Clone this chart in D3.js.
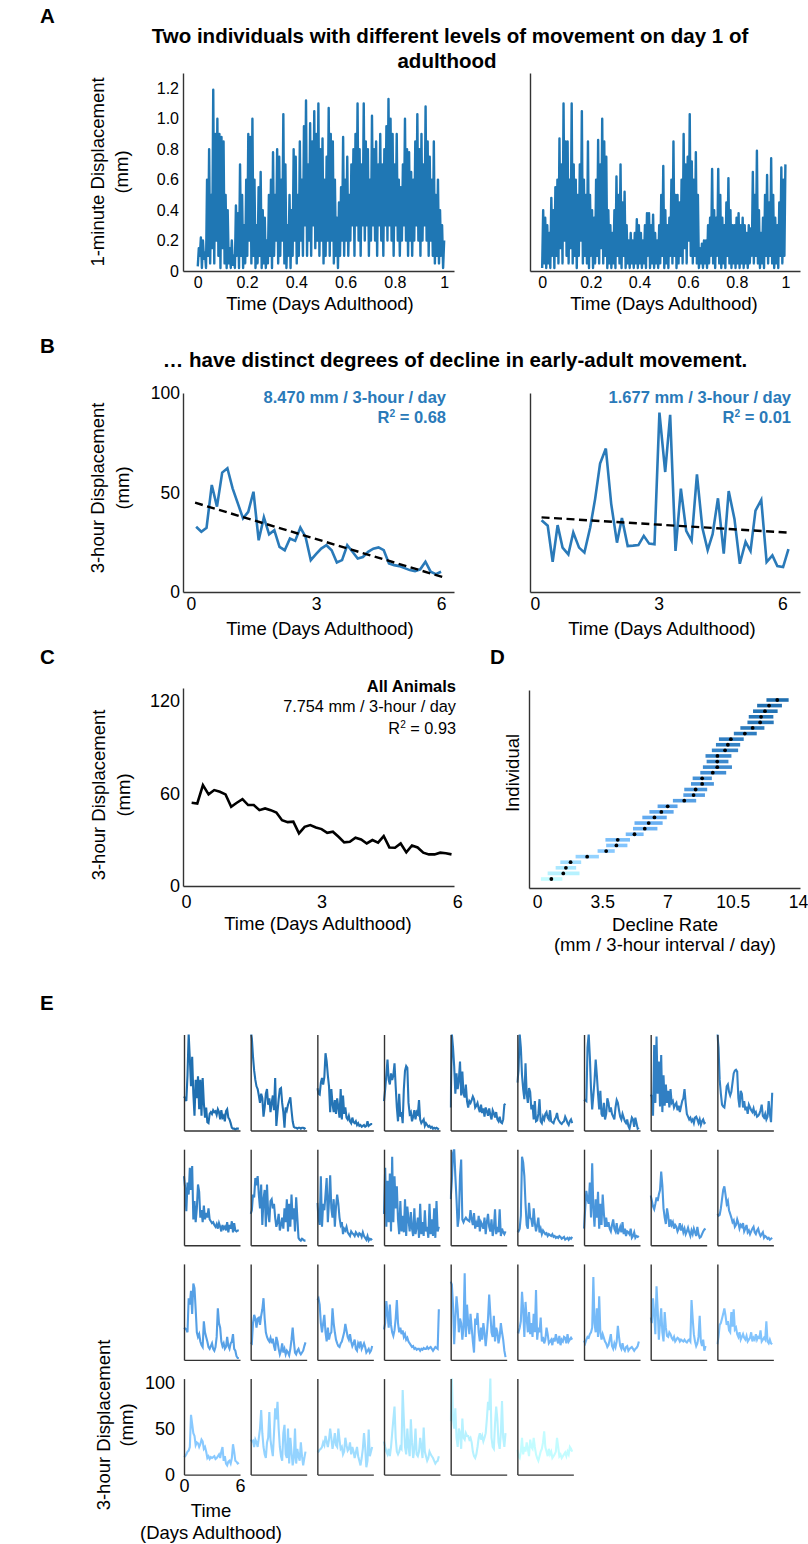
<!DOCTYPE html>
<html>
<head>
<meta charset="utf-8">
<script src="https://cdn.jsdelivr.net/npm/d3@7"></script>
<style>
  body { margin: 0; background: #fff; }
  svg text { font-family: 'Liberation Sans', Arial, Helvetica, sans-serif; fill: #000; }
</style>
</head>
<body>
<svg id="fig" width="808" height="1544"></svg>
<script>
// ---------------- data ----------------
// A: 1-minute displacement (mm), day 1, two individuals (downsampled, trough/peak pairs)
var moveActive = [
  0.03,0.15, 0.1,0.22, 0.02,0.2, 0.08,0.12, 0.02,0.6, 0.1,0.8, 0.05,0.5, 0.15,1.19, 0.05,0.9, 0.2,1.0,
  0.1,0.9, 0.02,0.88, 0.15,0.85, 0.05,0.5, 0.02,0.4, 0.05,0.15, 0.02,0.2, 0.04,0.1, 0.02,0.43, 0.1,0.38,
  0.02,0.7, 0.1,0.5, 0.02,0.3, 0.05,0.6, 0.1,0.9, 0.2,0.88, 0.05,1.0, 0.1,0.6, 0.02,0.3, 0.05,0.55,
  0.1,0.65, 0.02,0.4, 0.05,0.35, 0.02,0.2, 0.05,0.5, 0.1,0.6, 0.02,0.78, 0.1,0.5, 0.2,0.8, 0.05,0.75,
  0.1,0.6, 0.2,1.03, 0.05,0.7, 0.02,0.3, 0.1,0.5, 0.02,0.4, 0.1,0.8, 0.2,0.75, 0.05,0.5, 0.1,0.85,
  0.2,0.6, 0.1,0.95, 0.3,1.12, 0.1,0.7, 0.2,0.97, 0.1,0.85, 0.3,1.05, 0.15,0.9, 0.2,1.1, 0.1,0.8,
  0.2,0.87, 0.05,0.6, 0.1,0.75, 0.2,1.07, 0.1,0.9, 0.2,0.85, 0.05,0.6, 0.1,0.35, 0.02,0.45, 0.1,0.55,
  0.2,0.88, 0.1,0.6, 0.2,0.75, 0.1,0.5, 0.2,0.7, 0.3,0.8, 0.1,0.9, 0.3,1.1, 0.2,0.8, 0.1,0.7,
  0.3,1.1, 0.2,0.85, 0.3,0.8, 0.1,0.6, 0.2,1.02, 0.3,0.8, 0.2,0.85, 0.1,0.7, 0.3,0.9, 0.2,0.7,
  0.1,0.8, 0.3,0.95, 0.2,1.13, 0.3,1.0, 0.2,0.9, 0.1,0.7, 0.3,0.9, 0.2,0.6, 0.1,0.55, 0.2,0.7,
  0.3,1.0, 0.2,0.8, 0.1,0.78, 0.2,0.65, 0.1,0.6, 0.2,0.85, 0.3,1.03, 0.2,0.8, 0.1,0.9, 0.2,0.7,
  0.3,1.08, 0.2,0.85, 0.1,0.75, 0.2,0.6, 0.1,0.85, 0.05,0.5, 0.1,0.6, 0.05,0.4, 0.1,0.3, 0.02,0.2
];
var moveCalm = [
  0.02,0.4, 0.05,0.35, 0.02,0.3, 0.05,0.25, 0.02,0.48, 0.1,0.4, 0.02,0.55, 0.1,0.6, 0.05,0.87, 0.15,0.7,
  0.05,1.1, 0.2,0.85, 0.1,0.85, 0.05,0.6, 0.15,1.1, 0.05,0.7, 0.1,0.6, 0.02,0.5, 0.1,0.7, 0.2,1.05,
  0.05,0.6, 0.1,0.5, 0.05,0.85, 0.02,0.5, 0.1,0.4, 0.02,0.35, 0.05,0.6, 0.1,0.86, 0.05,0.7, 0.15,1.0,
  0.05,0.85, 0.1,0.75, 0.02,0.4, 0.05,0.3, 0.02,0.25, 0.05,0.4, 0.02,0.62, 0.1,0.5, 0.05,0.7, 0.02,0.45,
  0.1,0.52, 0.02,0.3, 0.05,0.2, 0.02,0.25, 0.05,0.2, 0.02,0.25, 0.05,0.34, 0.02,0.3, 0.05,0.25, 0.02,0.2,
  0.05,0.3, 0.02,0.38, 0.1,0.38, 0.02,0.3, 0.05,0.37, 0.02,0.25, 0.05,0.2, 0.02,0.3, 0.05,0.5, 0.1,0.69,
  0.02,0.4, 0.05,0.3, 0.02,0.35, 0.1,0.6, 0.05,0.85, 0.1,0.5, 0.02,0.5, 0.05,0.45, 0.1,0.6, 0.05,0.9,
  0.15,0.7, 0.05,0.75, 0.2,1.03, 0.1,0.72, 0.05,0.6, 0.1,0.78, 0.05,0.5, 0.02,0.15, 0.05,0.18, 0.02,0.2,
  0.05,0.2, 0.02,0.3, 0.05,0.35, 0.1,0.67, 0.05,0.4, 0.02,0.35, 0.1,0.67, 0.05,0.5, 0.02,0.35, 0.05,0.3,
  0.02,0.45, 0.1,0.61, 0.05,0.4, 0.02,0.3, 0.05,0.3, 0.02,0.35, 0.05,0.38, 0.02,0.3, 0.05,0.35, 0.02,0.3,
  0.05,0.25, 0.02,0.3, 0.05,0.28, 0.1,0.65, 0.05,0.5, 0.1,0.79, 0.05,0.4, 0.02,0.25, 0.05,0.35, 0.02,0.5,
  0.1,0.63, 0.05,0.45, 0.1,0.74, 0.05,0.5, 0.02,0.35, 0.05,0.3, 0.02,0.45, 0.1,0.68, 0.05,0.6, 0.1,0.7
];

// B: 3-hour displacement (mm), two individuals
var dispSteep = [
  32.8,30.3,32.3,53.8,42.9,60,62.2,52.1,44.5,37,40.3,50.4,26,37.5,29,31.1,
  22.7,21,26.9,25.7,32.4,27.7,16,19,21.8,23.5,21,14.8,16,23.5,20.2,16.8,
  17.6,20.2,21.8,22.4,21,14.3,13.5,13,12,11,10.5,11.4,15.2,10.2,9,10.2
];
var timeFlat = [
  0.16,0.31,0.43,0.55,0.67,0.81,0.93,1.07,1.2,1.34,1.46,1.58,1.72,1.85,1.99,2.11,
  2.25,2.38,2.51,2.64,2.77,2.9,3.02,3.16,3.28,3.41,3.54,3.67,3.8,3.93,4.06,4.19,
  4.31,4.44,4.58,4.7,4.84,4.97,5.11,5.23,5.35,5.49,5.62,5.76,5.88,6.02,6.15
];
var dispFlat = [
  36.1,33.3,15.2,33.6,22.3,18.9,29.9,22.3,19.8,32.4,46.8,64.5,72.1,44.3,24.8,37.2,
  23.1,23.3,23.6,28.2,24.3,24,90.2,60.3,89,20.6,51.9,30.7,25.7,59.1,32.4,21.1,
  29.1,47.1,19.3,50.7,36.7,14.2,25.2,20.6,40.9,46.3,15,18.4,13,12.5,21.5
];
// regression fits: [t start, t end, intercept, slope]
var fitSteep = [0.1, 6.05, 45.5, -6.29];
var fitFlat = [0.16, 6.15, 37.7, -1.28];

// C: mean of all animals
var dispAll = [
  54,53.5,65.4,59.4,62.2,61.1,59.4,51.4,54,56.3,52.5,52.5,49.2,50.3,49.2,47.7,
  42.7,41.4,41.7,34.1,38.4,39.5,38,36.9,34.5,35.2,31.9,28.3,28.7,31.3,30.2,27.6,
  29.8,28.1,32.4,25,24.8,27.6,21.8,26.3,25,21.6,20.5,20.5,21.6,21.2,20.5
];

// D: decline rate per individual (sorted, steepest first), with interval
var rateMean = [12.89,12.45,12.23,12.02,11.97,11.57,11.15,10.40,10.24,10.09,9.68,9.67,9.67,9.43,8.86,8.86,8.51,8.40,7.90,7.01,6.67,6.30,5.99,5.78,5.23,4.33,4.26,3.71,2.69,1.80,1.55,1.41,0.77];
var rateLo   = [12.31,11.81,11.59,11.36,11.29,10.91,10.56,9.76,9.60,9.38,9.04,9.10,8.90,8.76,8.35,8.26,7.90,7.85,7.29,6.47,6.03,5.65,5.23,5.15,4.76,3.67,3.71,3.25,2.07,1.25,1.00,0.57,0.21];
var rateHi   = [13.50,13.14,12.91,12.68,12.70,12.20,11.79,11.09,10.90,10.79,10.43,10.27,10.46,10.15,9.38,9.49,9.13,9.01,8.54,7.54,7.33,6.96,6.74,6.46,5.72,4.99,4.85,4.17,3.32,2.37,2.10,2.28,1.36];

// E: 3-hour displacement per individual (same order as D)
var indiv = [
  [37,35,32,60,105,78,48,80,40,16,55,35,59,23,55,16,57,30,14,25,9,8,18,20,18,22,20,21,17,23,20,12,22,14,16,10,21,23,14,12,8,3,2,2,1,2,2,2],
  [110,100,80,65,55,48,45,38,30,40,35,15,25,40,45,28,35,20,30,38,22,57,5,20,34,45,46,30,20,3,25,22,28,32,36,22,10,4,3,3,2,3,3,2,3,3,2,3],
  [46,40,39,52,57,50,58,84,75,60,48,20,45,29,20,33,18,35,25,14,45,12,38,18,25,14,12,16,10,8,14,9,8,10,6,8,5,6,4,5,6,4,5,10,5,6,7,7],
  [32,45,60,77,55,50,62,55,60,73,48,25,10,40,15,20,8,45,65,70,68,30,18,20,10,15,22,12,20,18,33,12,8,10,12,5,8,6,4,5,3,4,2,3,2,3,2,1],
  [25,105,90,70,40,62,45,55,75,38,64,40,36,50,32,25,32,30,33,37,34,25,27,30,24,20,28,19,24,15,25,21,16,24,17,12,22,19,14,20,12,10,15,9,8,12,28,29],
  [52,65,105,90,60,45,34,73,40,30,46,42,23,28,12,32,10,11,18,34,10,8,15,12,18,20,14,12,22,10,9,8,12,14,19,12,10,8,7,9,10,15,12,8,6,10,12,8],
  [32,33,32,90,105,80,45,23,38,54,77,60,40,23,43,18,15,30,12,18,35,30,20,25,18,15,12,25,33,30,22,15,12,18,14,10,8,12,5,2,8,14,12,4,14,8,2,3],
  [39,37,16,93,30,102,40,75,26,82,20,60,27,50,30,43,25,45,30,32,25,28,30,22,27,20,26,32,35,45,30,18,15,12,14,10,12,8,14,15,12,8,12,6,10,12,8,9],
  [105,90,55,40,28,26,25,35,48,50,42,38,42,52,62,65,66,64,35,25,43,40,25,32,22,26,18,28,25,22,20,24,18,20,15,16,18,22,28,16,14,18,12,15,32,18,9,41],
  [75,62,37,68,55,84,60,86,28,48,25,40,66,58,30,38,25,43,28,35,30,40,28,26,24,25,22,20,23,18,24,20,15,22,18,20,16,25,14,22,18,26,14,24,16,15,16,16],
  [34,38,55,52,73,65,75,55,40,66,22,50,60,20,66,35,25,48,50,40,45,30,20,25,34,16,22,30,18,40,25,50,15,45,20,55,28,40,15,52,30,8,6,5,7,6,5,5],
  [46,30,22,75,20,45,38,55,73,25,48,76,40,30,50,20,42,55,45,30,22,25,12,18,16,20,14,12,10,15,13,12,10,14,12,10,13,12,9,14,10,8,6,10,5,7,6,7],
  [34,84,20,70,25,78,15,96,25,75,40,64,28,12,48,15,32,14,50,10,42,28,15,36,18,10,40,12,20,30,8,45,12,25,10,38,15,20,8,45,12,28,10,40,8,48,15,20],
  [50,70,100,105,75,50,20,30,75,93,28,25,28,30,28,27,26,38,28,22,35,18,24,20,32,15,25,22,18,30,12,25,34,20,15,28,10,18,39,12,20,14,39,10,18,14,12,15],
  [16,15,18,32,96,90,75,45,22,18,46,30,28,20,40,24,15,22,30,14,18,12,16,14,12,13,10,12,11,10,12,9,10,8,9,8,10,9,7,8,9,6,7,8,6,8,7,9],
  [18,40,59,50,45,68,30,89,40,20,50,30,58,18,45,22,55,35,20,30,20,25,18,15,22,28,18,15,24,12,16,20,14,25,12,18,10,15,14,12,18,8,10,14,8,10,9,10],
  [54,48,42,39,45,52,48,55,60,80,65,40,30,23,40,32,20,28,22,25,18,22,20,15,18,24,16,20,14,18,12,15,19,14,10,16,12,18,14,10,20,12,8,9,12,15,17,18],
  [34,32,33,40,50,60,64,55,45,48,38,34,30,25,27,20,22,28,24,18,22,20,24,15,18,22,14,16,12,15,18,20,14,12,16,18,13,10,12,14,8,10,9,7,8,6,7,8],
  [35,34,33,30,67,60,75,50,83,78,55,30,25,28,20,16,14,42,30,25,20,14,12,15,18,12,10,14,25,56,40,35,20,15,18,12,14,25,15,12,18,20,28,12,10,4,2,2],
  [19,18,40,49,45,35,45,46,38,48,55,67,45,30,25,22,20,24,18,23,15,10,25,20,12,6,10,18,8,12,6,10,8,5,12,22,35,20,8,6,10,12,8,6,8,10,15,19],
  [65,67,60,40,30,40,49,30,20,35,22,28,30,56,40,30,22,18,15,14,18,20,25,30,39,32,25,22,28,20,15,18,22,12,10,18,15,20,12,15,18,14,8,10,12,8,10,15],
  [33,40,64,50,35,60,38,30,26,32,45,65,40,30,35,28,32,25,28,22,24,20,18,16,14,15,12,13,11,12,12,10,12,11,13,12,12,14,12,13,14,12,10,12,14,13,12,55],
  [85,82,60,17,45,69,55,30,45,40,22,35,94,25,60,40,28,50,35,20,8,45,38,51,30,20,35,22,40,30,15,28,45,71,50,30,25,48,20,35,30,18,25,40,30,22,10,3],
  [31,30,35,42,74,55,25,63,45,30,52,28,40,25,50,30,76,22,35,30,46,20,25,18,22,35,28,18,20,22,16,24,20,28,22,18,26,16,22,20,25,24,18,28,20,22,24,22],
  [21,18,22,25,24,28,30,35,90,40,30,56,25,69,30,22,28,24,20,18,14,16,22,28,15,12,18,14,20,37,25,15,12,18,12,10,14,15,10,12,13,14,12,10,12,13,15,20],
  [46,40,67,50,28,80,55,22,40,56,30,20,52,35,26,25,30,28,24,22,25,20,22,24,23,20,22,21,20,22,20,19,21,22,20,65,45,28,20,15,18,25,48,20,15,22,10,15],
  [17,25,38,40,45,50,56,48,38,42,32,30,52,36,55,33,35,28,25,30,22,25,28,24,22,26,20,22,24,30,20,24,22,28,22,25,24,32,20,22,24,22,42,20,18,22,18,17],
  [19,20,22,25,26,30,65,55,45,42,32,35,34,30,33,38,36,28,30,25,18,20,17,19,18,19,20,17,18,20,22,18,25,30,15,20,12,10,14,15,12,18,33,25,15,14,12,13],
  [38,36,37,30,38,35,30,40,50,70,45,30,22,18,35,40,68,38,28,20,45,72,60,79,50,30,20,15,45,54,22,18,50,12,40,25,10,18,50,12,28,20,15,35,20,10,18,25],
  [26,25,27,28,30,35,32,42,36,30,38,50,40,28,35,45,32,30,50,38,28,30,22,25,40,32,26,28,35,22,30,25,18,24,30,20,15,10,18,28,45,30,8,15,49,20,25,30],
  [36,30,25,22,28,20,30,45,60,74,40,25,22,25,30,28,92,60,30,22,50,30,20,60,35,18,28,50,22,20,25,40,30,18,51,25,20,15,18,25,22,20,18,15,12,14,15,20],
  [58,105,60,50,72,40,30,50,45,28,61,40,38,45,42,42,38,40,35,25,20,18,22,30,40,45,38,42,36,40,45,60,79,70,105,40,30,28,55,74,60,35,28,45,80,40,30,45],
  [27,20,18,25,40,22,30,25,35,28,20,38,30,28,40,30,22,18,15,20,25,28,35,47,30,25,20,28,22,25,18,20,22,25,40,30,20,22,18,20,22,24,20,25,22,30,28,25]
];

// ---------------- drawing ----------------
var svg = d3.select('#fig');
var BLUE = '#1f77b4', BLUE_B = '#2a7ab9';

// individual colour ramp: steepest decline = dark blue, flattest = pale cyan
var shade = d3.scaleLinear()
    .domain([0, 12, 21, 27, 32])
    .range(['#1f6fb0', '#3d8bd0', '#62aaf0', '#88c9ff', '#c3fcff'])
    .interpolate(d3.interpolateRgb);

var plain = function(d) { return String(d); };

function styleAxis(g, fs) {
  g.select('.domain').attr('stroke', '#333').attr('stroke-width', 1.4);
  g.selectAll('.tick line').remove();
  g.selectAll('.tick text').attr('font-size', fs).attr('fill', '#000');
}

function drawAxes(x, y, o) {
  var gx = svg.append('g')
      .attr('transform', 'translate(0,' + y.range()[0] + ')')
      .call(d3.axisBottom(x).tickValues(o.xt).tickFormat(o.xf || plain).tickSize(0).tickPadding(o.xp));
  var gy = svg.append('g')
      .attr('transform', 'translate(' + x.range()[0] + ',0)')
      .call(d3.axisLeft(y).tickValues(o.yt).tickFormat(o.yf || plain).tickSize(0).tickPadding(o.yp));
  styleAxis(gx, o.fs);
  styleAxis(gy, o.fs);
}

function label(x, y, txt, fs, opts) {
  opts = opts || {};
  return svg.append('text').attr('x', x).attr('y', y)
    .attr('text-anchor', opts.anchor || 'middle')
    .attr('font-size', fs)
    .attr('font-weight', opts.bold ? 'bold' : null)
    .style('fill', opts.color || '#000')
    .text(txt);
}

function yLabel(x, y, lines, fs, gap) {
  var t = svg.append('text')
    .attr('transform', 'translate(' + x + ',' + y + ') rotate(-90)')
    .attr('text-anchor', 'middle').attr('font-size', fs);
  lines.forEach(function(s, i) {
    t.append('tspan').attr('x', 0).attr('dy', i ? gap : 0).text(s);
  });
}

function rSquared(x, y, val, fs, opts) {
  var t = svg.append('text').attr('x', x).attr('y', y)
    .attr('text-anchor', 'end').attr('font-size', fs)
    .attr('font-weight', opts.bold ? 'bold' : null)
    .style('fill', opts.color || '#000');
  t.append('tspan').text('R');
  t.append('tspan').attr('dy', -6).attr('font-size', fs * 0.62).text('2');
  t.append('tspan').attr('dy', 6).text(' = ' + val);
}

// panel letters
[['A', 23], ['B', 353], ['C', 664]].forEach(function(p) {
  label(40, p[1], p[0], 20.5, {anchor: 'start', bold: true});
});
label(490, 664, 'D', 20.5, {anchor: 'start', bold: true});
label(40, 1010, 'E', 20.5, {anchor: 'start', bold: true});

// ---------- Panel A ----------
label(450, 43, 'Two individuals with different levels of movement on day 1 of', 20.5, {bold: true});
label(447, 68, 'adulthood', 20.5, {bold: true});

var yA = d3.scaleLinear().domain([0, 1.3]).range([271, 73]);
var fmtA = function(d) { return d === 0 ? '0' : d.toFixed(1); };

[[moveActive, [183, 454], [-0.06, 1.04], true, 320],
 [moveCalm,   [530, 800], [-0.05, 1.06], false, 664]].forEach(function(p) {
  var x = d3.scaleLinear().domain(p[2]).range(p[1]);
  var n = p[0].length;
  var line = d3.line()
      .x(function(d, i) { return x(i / (n - 1)); })
      .y(function(d) { return yA(d); });
  svg.append('path').datum(p[0])
    .attr('d', line).attr('fill', 'none')
    .attr('stroke', BLUE).attr('stroke-width', 2.4).attr('stroke-linejoin', 'round');
  drawAxes(x, yA, {
    xt: [0, 0.2, 0.4, 0.6, 0.8, 1], xp: 5.5,
    yt: p[3] ? [0, 0.2, 0.4, 0.6, 0.8, 1.0, 1.2] : [], yf: fmtA, yp: 4,
    fs: 16
  });
  label(p[4], 310, 'Time (Days Adulthood)', 18.5);
});
yLabel(104, 172, ['1-minute Displacement', '(mm)'], 18.5, 24);

// ---------- Panel B ----------
label(455, 367, '\u2026 have distinct degrees of decline in early-adult movement.', 20.5, {bold: true});
var yB = d3.scaleLinear().domain([0, 100]).range([592, 393]);
var stepT = function(i) { return 0.125 * (i + 1); };

[[dispSteep, null, fitSteep, [183, 454], [-0.19, 6.31], true, 320, '8.470', '0.68', 446],
 [dispFlat, timeFlat, fitFlat, [530, 800], [-0.12, 6.43], false, 662, '1.677', '0.01', 791]].forEach(function(p) {
  var x = d3.scaleLinear().domain(p[4]).range(p[3]);
  var times = p[1];
  var line = d3.line()
      .x(function(d, i) { return x(times ? times[i] : stepT(i)); })
      .y(function(d) { return yB(d); });
  svg.append('path').datum(p[0])
    .attr('d', line).attr('fill', 'none')
    .attr('stroke', BLUE_B).attr('stroke-width', 2.6);
  var f = p[2];
  svg.append('line')
    .attr('x1', x(f[0])).attr('y1', yB(f[2] + f[3] * f[0]))
    .attr('x2', x(f[1])).attr('y2', yB(f[2] + f[3] * f[1]))
    .attr('stroke', '#000').attr('stroke-width', 2.4).attr('stroke-dasharray', '8,4.5');
  drawAxes(x, yB, {
    xt: [0, 3, 6], xp: 5.5,
    yt: p[5] ? [0, 50, 100] : [], yp: 3,
    fs: 17.5
  });
  label(p[6], 635, 'Time (Days Adulthood)', 18.5);
  label(p[9], 403, p[7] + ' mm / 3-hour / day', 16.5, {anchor: 'end', bold: true, color: BLUE_B});
  rSquared(p[9], 423, p[8], 16.5, {bold: true, color: BLUE_B});
});
yLabel(104, 488, ['3-hour Displacement', '(mm)'], 18.5, 25);

// ---------- Panel C ----------
var xC = d3.scaleLinear().domain([-0.066, 5.93]).range([183, 454]);
var yC = d3.scaleLinear().domain([0, 128.4]).range([886, 688]);
svg.append('path').datum(dispAll)
  .attr('d', d3.line().x(function(d, i) { return xC(stepT(i)); }).y(function(d) { return yC(d); }))
  .attr('fill', 'none').attr('stroke', '#000').attr('stroke-width', 2.6);
drawAxes(xC, yC, {xt: [0, 3, 6], xp: 9, yt: [0, 60, 120], yp: 3, fs: 18});
label(318, 930, 'Time (Days Adulthood)', 18.5);
yLabel(105, 795, ['3-hour Displacement', '(mm)'], 18.5, 25);
label(456, 692, 'All Animals', 16.5, {anchor: 'end', bold: true});
label(456, 712, '7.754 mm / 3-hour / day', 16.3, {anchor: 'end'});
rSquared(456, 734, '0.93', 16.3, {});

// ---------- Panel D ----------
var xD = d3.scaleLinear().domain([-0.43, 14.11]).range([529, 800]);
var yD = d3.scaleLinear().domain([0, 1]).range([888, 690]);
var rowD = d3.scalePoint().domain(d3.range(rateMean.length)).range([700, 879]);
var gD = svg.append('g');
gD.selectAll('line.ci').data(rateMean).enter().append('line')
  .attr('class', 'ci')
  .attr('x1', function(d, i) { return xD(rateLo[i]); })
  .attr('x2', function(d, i) { return xD(rateHi[i]); })
  .attr('y1', function(d, i) { return rowD(i); })
  .attr('y2', function(d, i) { return rowD(i); })
  .attr('stroke', function(d, i) { return shade(i); })
  .attr('stroke-width', 3.6);
gD.selectAll('circle').data(rateMean).enter().append('circle')
  .attr('cx', function(d) { return xD(d); })
  .attr('cy', function(d, i) { return rowD(i); })
  .attr('r', 1.9).attr('fill', '#000');
drawAxes(xD, yD, {xt: [0, 3.5, 7, 10.5, 14], xp: 7.5, yt: [], yp: 3, fs: 17.5});
label(665, 931, 'Decline Rate', 18.5);
label(665, 951, '(mm / 3-hour interval / day)', 18.5);
yLabel(519, 773, ['Individual'], 18.5, 0);

// ---------- Panel E ----------
var colStep = 66.67, rowStep = 114.7, panelW = 57, panelH = 96;
indiv.forEach(function(series, k) {
  var col = k % 9, row = Math.floor(k / 9);
  var x0 = 183 + col * colStep, top = 1034.5 + row * rowStep, bot = top + panelH;
  var x = d3.scaleLinear().domain([0, 6]).range([x0 + 1, x0 + panelW]);
  var y = d3.scaleLinear().domain([0, 104.3]).range([bot, top]);
  var cid = 'clipE' + k;
  svg.append('clipPath').attr('id', cid).append('rect')
    .attr('x', x0).attr('y', top).attr('width', panelW + 2).attr('height', panelH);
  svg.append('path').datum(series)
    .attr('clip-path', 'url(#' + cid + ')')
    .attr('d', d3.line().x(function(d, i) { return x(0.125 * i); }).y(function(d) { return y(d); }))
    .attr('fill', 'none').attr('stroke', shade(k)).attr('stroke-width', 2.1);
  var first = (row === 3 && col === 0);
  drawAxes(x, y, {
    xt: first ? [0, 6] : [], xp: 5,
    yt: first ? [0, 50, 100] : [], yp: 9,
    fs: 18
  });
});
label(211, 1517, 'Time', 18.5);
label(211, 1539, '(Days Adulthood)', 18.5);
yLabel(110, 1425, ['3-hour Displacement', '(mm)'], 18.5, 23);
</script>
</body>
</html>
